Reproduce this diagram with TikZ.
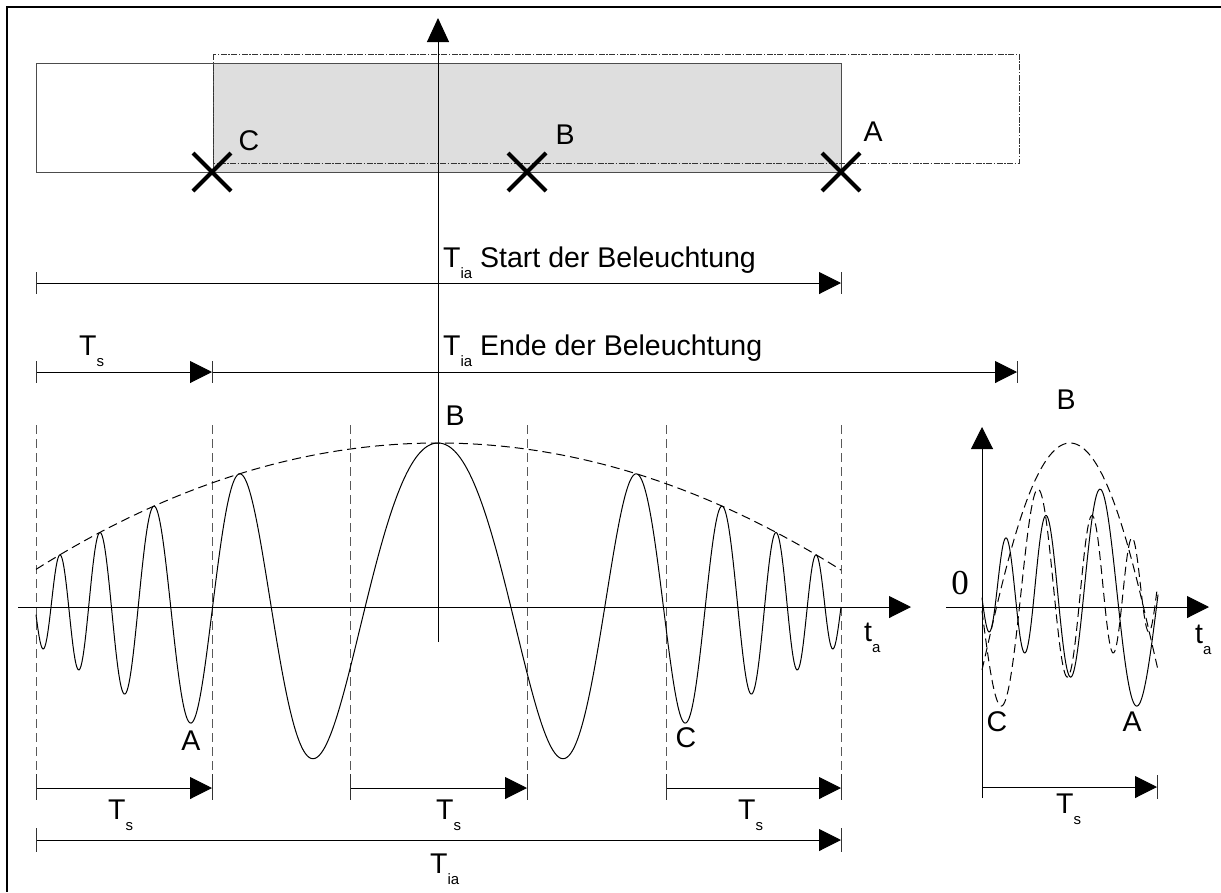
\documentclass[tikz,border=0pt]{standalone}
\usepackage{fontspec}
\setmainfont{Liberation Sans}
\newfontfamily\zerofont{Liberation Serif}
\usetikzlibrary{arrows.meta}
\newcommand\subx[1]{\raisebox{-11pt}{\fontsize{15}{15}\selectfont #1}}
\tikzset{
  lbl/.style={font=\fontsize{28.5}{32}\selectfont, inner sep=0pt},
  ln/.style={line width=1pt},
  arr/.style={ln, -{Triangle[length=22pt,width=22pt]}},
  tk/.style={line width=0.9pt, draw=black!80},
  vdash/.style={line width=1pt, draw=black!65, dash pattern=on 9pt off 5pt},
  env/.style={line width=1pt, dash pattern=on 9pt off 5pt},
  crossmark/.style={line width=4pt},
  declare function={
    E(\d)=164-7.82*(\d/100)*(\d/100);
    uu(\d)=abs(\d)/403;
    ph(\d)=2.316*uu(\d)+2.332*uu(\d)*uu(\d)+4.852*uu(\d)*uu(\d)*uu(\d)*uu(\d);
    sig(\d)=E(\d)*cos(180*ph(\d));
    bsig(\d)=164*cos(1.1019*\d+22.9*(\d/100)*(\d/100)*(\d/100));
  }
}
\begin{document}
\begin{tikzpicture}[x=1pt,y=-1pt]
\useasboundingbox (0,0) rectangle (1221,892);
% frame
\draw[line width=1.2pt] (1221,7) -- (7,7) -- (7,892);

% top rectangles
\draw[line width=1pt, draw=black!70] (36,63) rectangle (841,172);
\draw[line width=1pt, draw=black!70, fill=black!13] (213,63) rectangle (841,172);
\draw[line width=1pt, draw=black!80, dash pattern=on 6pt off 1.5pt on 1.5pt off 1.5pt] (213,54) rectangle (1019,163);

% main vertical axis
\coordinate (vaxb) at (438,642);
\coordinate (vaxt) at (438,18);
\draw[ln, -{Triangle[length=24pt,width=22pt]}] (vaxb) -- (vaxt);

% crosses
\foreach \cx in {212,527,841}{
  \draw[crossmark] (\cx,172) ++(-19,-19) -- ++(38,38) ++(0,-38) -- ++(-38,38);
}
\node[lbl] (labC1) at (249,141) {C};
\node[lbl] (labB1) at (565,135) {B};
\node[lbl] (labA1) at (873,132) {A};

% T_ia start arrow
\coordinate (a1s) at (36,283);
\coordinate (a1e) at (841,283);
\draw[arr] (a1s) -- (a1e);
\draw[tk] (36,272) -- (36,294);
\draw[tk] (841,272) -- (841,294);
\node[lbl, anchor=base west] (tstart) at (443,267) {T\subx{ia} Start der Beleuchtung};

% T_s and T_ia end arrows
\coordinate (a2s) at (36,372);
\coordinate (a2m) at (212,372);
\coordinate (a2e) at (1017,372);
\draw[arr] (a2s) -- (a2m);
\draw[arr] (a2m) -- (a2e);
\draw[tk] (36,361) -- (36,383);
\draw[tk] (212,361) -- (212,383);
\draw[tk] (1017,361) -- (1017,383);
\node[lbl, anchor=base west] (ts0) at (79,355) {T\subx{s}};
\node[lbl, anchor=base west] (tend) at (443,355) {T\subx{ia} Ende der Beleuchtung};

% dashed window lines
\foreach \vx in {36,212,350,527,666,841}{
  \draw[vdash] (\vx,425) -- (\vx,776);
}

% main horizontal axis
\coordinate (haxl) at (18,607);
\coordinate (haxr) at (911,607);
\draw[arr] (haxl) -- (haxr);
\node[lbl, anchor=base west] (ta1) at (864,641) {t\subx{a}};

% envelope
\draw[env] plot[domain=-402:403, samples=200] ({438+\x},{607-E(\x)});
% chirp signal
\draw[ln] plot[domain=-402:403, samples=806] ({438+\x},{607-sig(\x)});

\node[lbl] (labB2) at (455,416) {B};
\node[lbl] (labA2) at (191,741) {A};
\node[lbl] (labC2) at (686,738) {C};

% bottom T_s arrows
\foreach \sx/\ex/\tx in {36/212/108, 350/527/436, 666/841/738}{
  \draw[arr] (\sx,788) -- (\ex,788);
  \draw[tk] (\sx,774) -- (\sx,800);
  \draw[tk] (\ex,774) -- (\ex,800);
  \node[lbl, anchor=base west] at (\tx,819) {T\subx{s}};
}
% T_ia total
\coordinate (bts) at (36,840);
\coordinate (bte) at (841,840);
\draw[arr] (bts) -- (bte);
\draw[tk] (36,828) -- (36,852);
\draw[tk] (841,828) -- (841,852);
\node[lbl, anchor=base west] (tia) at (430,873) {T\subx{ia}};

% ---- small plot ----
\coordinate (svb) at (982,798);
\coordinate (svt) at (982,427);
\draw[arr] (svb) -- (svt);
\coordinate (shl) at (946,607);
\coordinate (shr) at (1209,607);
\draw[arr] (shl) -- (shr);
\node[font=\zerofont\fontsize{35}{40}\selectfont, inner sep=0pt] (zero) at (960,583) {0};
\node[lbl, anchor=base west] (ta2) at (1195,643) {t\subx{a}};

\draw[env] plot[domain=-88:88, samples=120] ({1070+\x},{607-bsig(\x)});
\draw[env] plot[domain=228:403, samples=200] ({754+\x},{590-sig(\x)});
\draw[ln] plot[domain=-402:-226, samples=200] ({1384+\x},{590-sig(\x)});

\node[lbl] (labB3) at (1066,400) {B};
\node[lbl] (labC3) at (997,722) {C};
\node[lbl] (labA3) at (1132,722) {A};

\coordinate (sts) at (982,787);
\coordinate (ste) at (1157,787);
\draw[arr] (sts) -- (ste);
\draw[tk] (1157,775) -- (1157,799);
\node[lbl, anchor=base west] (ts4) at (1056,813) {T\subx{s}};
\end{tikzpicture}
\end{document}
